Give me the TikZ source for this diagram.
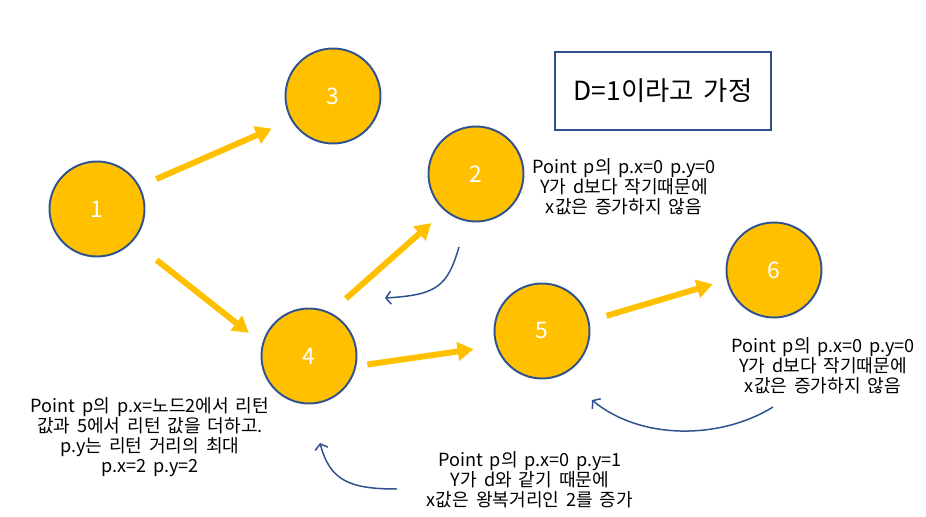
\documentclass[tikz,border=0pt]{standalone}
\usepackage{fontspec}
\setmainfont{Noto Sans CJK KR}[WordSpace=1.7]
\usepackage{xcolor}
\usetikzlibrary{arrows.meta,positioning,calc}
\definecolor{nodegold}{RGB}{255,192,0}
\definecolor{edgeblue}{RGB}{47,82,143}

\begin{document}
\begin{tikzpicture}[
  font=\fontsize{10.3}{11.5}\selectfont,
  vertex/.style={circle,draw=edgeblue,line width=1.1pt,fill=nodegold,minimum size=1.9cm,
    inner sep=0pt,text=white,font=\fontsize{13}{15}\selectfont},
  note/.style={align=center,inner sep=0pt},
  assume/.style={draw=edgeblue,line width=1.1pt,minimum width=4.32cm,minimum height=1.56cm,
    font=\fontsize{15}{17}\selectfont},
  flow/.style={-{Triangle[length=3.2mm,width=3.6mm]},line width=3.4pt,draw=nodegold},
  back/.style={-{Straight Barb[length=1mm,width=2.6mm]},line width=0.85pt,draw=edgeblue}
]
  \useasboundingbox (0,0) rectangle (18.52,10.32);

  % graph nodes
  \node[vertex] (n1) at (1.94,6.14) {1};
  \node[vertex] (n3) at (6.66,8.40) {3};
  \node[vertex] (n2) at (9.52,6.84) {2};
  \node[vertex] (n4) at (6.18,3.20) {4};
  \node[vertex] (n5) at (10.84,3.70) {5};
  \node[vertex] (n6) at (15.48,4.92) {6};

  \node[assume] (dval) at (13.26,8.50) {D=1이라고 가정};

  % traversal
  \draw[flow,shorten <=0.36cm,shorten >=0.42cm] (n1.28) -- (n3.-150);
  \draw[flow,shorten <=0.6cm,shorten >=0.34cm] (n1.-42) -- (n4.165);
  \draw[flow,shorten <=0.42cm,shorten >=0.36cm] (n4.64) -- (n2.-130);
  \draw[flow,shorten <=0.22cm,shorten >=0.45cm] (n4.-12) -- (n5.-162);
  \draw[flow,shorten <=0.36cm,shorten >=0.29cm] (n5.12) -- (n6.-168);

  % notes
  \node[note] (note2) at (12.48,6.58)
    {Point p의 p.x=0 p.y=0\\Y가 d보다 작기때문에\\x값은 증가하지 않음};
  \node[note] (note6) at (16.46,3.00)
    {Point p의 p.x=0 p.y=0\\Y가 d보다 작기때문에\\x값은 증가하지 않음};
  \node[note] (note4) at (3.00,1.58)
    {Point p의 p.x=노드2에서 리턴\\값과 5에서 리턴 값을 더하고.\\p.y는 리턴 거리의 최대\\p.x=2 p.y=2};
  \node[note] (note5) at (10.60,0.72)
    {Point p의 p.x=0 p.y=1\\Y가 d와 같기 때문에\\x값은 왕복거리인 2를 증가};

  % returns
  \coordinate (ret2a) at (9.18,5.38);
  \coordinate (ret2b) at (7.70,4.36);
  \coordinate (ret5a) at (7.94,0.54);
  \coordinate (ret5b) at (6.40,1.46);
  \coordinate (ret6a) at (15.46,2.18);
  \coordinate (ret6b) at (11.84,2.32);
  \draw[back] (ret2a) .. controls (8.95,4.6) and (8.75,4.42) .. (ret2b);
  \draw[back] (ret5a) .. controls (7.0,0.54) and (6.6,0.7) .. (ret5b);
  \draw[back] (ret6a) .. controls (14.4,1.52) and (12.8,1.52) .. (ret6b);
\end{tikzpicture}
\end{document}
